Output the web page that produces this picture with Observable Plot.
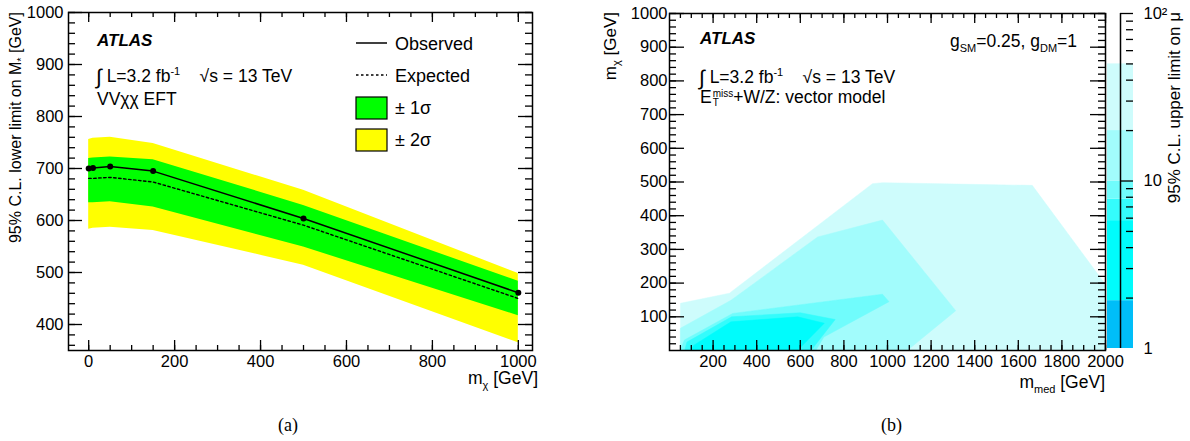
<!DOCTYPE html>
<html><head><meta charset="utf-8">
<script src="https://cdn.jsdelivr.net/npm/d3@7"></script>
<script src="https://cdn.jsdelivr.net/npm/@observablehq/plot@0.6"></script>
<style>
body{margin:0;background:#fff;}
#wrap{position:relative;width:1190px;height:441px;overflow:hidden;background:#fff;font-family:"Liberation Sans",Arial,sans-serif;color:#000;}
.abs{position:absolute;white-space:nowrap;line-height:1;font-size:17.5px;}
.panel{position:absolute;top:0;}
.rot{position:absolute;white-space:nowrap;line-height:16px;font-size:16px;transform-origin:0 0;transform:rotate(-90deg);text-align:right;}
sup,sub{font-size:11px;line-height:0;}
.atlas{font-weight:bold;font-style:italic;font-size:17px;}
.cap{position:absolute;font-family:"Liberation Serif","Times New Roman",serif;font-size:18px;line-height:1;}
.stack{display:inline-block;vertical-align:middle;line-height:9px;font-size:10px;margin-left:1px;}
</style></head><body><div id="wrap"></div>
<script>
// ---------- panel (a) data ----------
const mChi      = [0, 10, 50, 150, 500, 1000];
const observed  = [700, 701, 704, 695, 604, 461];
const expected  = [681, 681, 683, 674, 591, 450];
const sig1Lo    = [634, 634, 636, 626, 549, 417];
const sig1Hi    = [719, 720, 722, 717, 629, 483];
const sig2Lo    = [583, 585, 587, 581, 514, 365];
const sig2Hi    = [756, 758, 760, 748, 658, 498];
const aXMajor = [0, 200, 400, 600, 800, 1000];
const aXMinor = d3.range(0, 1001, 50);
const aYMajor = [400, 500, 600, 700, 800, 900, 1000];
const aYMinor = d3.range(360, 1001, 20);

// ---------- panel (b) data: contour regions (m_med, m_chi) ----------
const region20to50 = [[50,1],[50,140],[275,170],[931,495],[977,498],[1382,493],[1664,490],[1962,229],[2000,195],[2000,1]];
const region10to20 = [[50,1],[50,66],[282,149],[680,337],[977,387],[1313,118],[1092,1]];
const region8to10  = [[50,1],[68,31],[290,110],[977,167],[1007,145],[708,40],[672,1]];
const region6to8   = [[70,1],[80,25],[285,100],[600,112],[760,92],[650,1]];
const region2to6   = [[99,1],[110,15],[282,85],[588,100],[710,81],[588,1]];
const levelLo     = [1, 1.93, 5.8, 7.8, 10, 20];
const levelHi     = [1.93, 5.8, 7.8, 10, 20, 50];
const levelColors = ["#00bef8", "#00fcfc", "#34fcfc", "#70fcfc", "#a2fcfc", "#cefcfc"];
const bXMajor = [200, 400, 600, 800, 1000, 1200, 1400, 1600, 1800, 2000];
const bXMinor = d3.range(50, 2001, 50);
const bYMajor = [100, 200, 300, 400, 500, 600, 700, 800, 900, 1000];
const bYMinor = d3.range(20, 1001, 20);
const cMajor = [10, 100];
const cMinor = [2,3,4,5,6,7,8,9,20,30,40,50,60,70,80,90];

const font = {fontSize: "16.5px", fontFamily: "Liberation Sans, Arial, sans-serif", color: "#000", background: "transparent", overflow: "visible"};

function frameTicks(W, H, xMaj, xMin, yMaj, yMin, L) {
  const s = {stroke: "#000", strokeWidth: 1.3};
  return [
    Plot.tickX(xMaj, {x: d => d, insetTop: H - L.xM, ...s}),
    Plot.tickX(xMaj, {x: d => d, insetBottom: H - L.xM, ...s}),
    Plot.tickX(xMin, {x: d => d, insetTop: H - L.xm, ...s}),
    Plot.tickX(xMin, {x: d => d, insetBottom: H - L.xm, ...s}),
    Plot.tickY(yMaj, {y: d => d, insetRight: W - L.yM, ...s}),
    Plot.tickY(yMaj, {y: d => d, insetLeft: W - L.yM, ...s}),
    Plot.tickY(yMin, {y: d => d, insetRight: W - L.ym, ...s}),
    Plot.tickY(yMin, {y: d => d, insetLeft: W - L.ym, ...s})
  ];
}

const wrap = document.getElementById("wrap");

// ---------- panel (a) ----------
const rowsA = mChi.map((x, i) => ({x, obs: observed[i], exp: expected[i], s1l: sig1Lo[i], s1h: sig1Hi[i], s2l: sig2Lo[i], s2h: sig2Hi[i]}));
const aML = 68, aMR = 30, aMT = 12, aMB = 50, aWidth = 562, aHeight = 400;
const aW = aWidth - aML - aMR, aH = aHeight - aMT - aMB;
const plotA = Plot.plot({
  width: aWidth, height: aHeight, marginLeft: aML, marginRight: aMR, marginTop: aMT, marginBottom: aMB,
  style: font,
  x: {domain: [-47, 1033], ticks: aXMajor, tickSize: 0, tickPadding: 5, label: null, tickFormat: d => String(d)},
  y: {domain: [350, 1000], ticks: aYMajor, tickSize: 0, tickPadding: 5, label: null, tickFormat: d => String(d)},
  marks: [
    Plot.areaY(rowsA, {x: "x", y1: "s2l", y2: "s2h", fill: "#ffff00"}),
    Plot.areaY(rowsA, {x: "x", y1: "s1l", y2: "s1h", fill: "#00ff00"}),
    Plot.line(rowsA, {x: "x", y: "exp", stroke: "#000", strokeWidth: 1.4, strokeDasharray: "2.5,2.5"}),
    Plot.line(rowsA, {x: "x", y: "obs", stroke: "#000", strokeWidth: 1.5}),
    Plot.dot(rowsA, {x: "x", y: "obs", r: 3, fill: "#000", stroke: "none"}),
    ...frameTicks(aW, aH, aXMajor, aXMinor, aYMajor, aYMinor, {xM: 10, xm: 5, yM: 14, ym: 7}),
    Plot.frame({stroke: "#000", strokeWidth: 1.5})
  ]
});
const pa = document.createElement("div"); pa.className = "panel"; pa.style.left = "0px"; pa.appendChild(plotA); wrap.appendChild(pa);

// ---------- panel (b) ----------
const bML = 79, bMR = 85, bMT = 13, bMB = 50, bWidth = 600, bHeight = 400;
const bW = bWidth - bML - bMR, bH = bHeight - bMT - bMB;
const regions = [region20to50, region10to20, region8to10, region6to8, region2to6];
const regionColors = [levelColors[5], levelColors[4], levelColors[3], levelColors[2], levelColors[1]];
const plotB = Plot.plot({
  width: bWidth, height: bHeight, marginLeft: bML, marginRight: bMR, marginTop: bMT, marginBottom: bMB,
  style: font,
  x: {domain: [0, 2000], ticks: bXMajor, tickSize: 0, tickPadding: 5, label: null, tickFormat: d => String(d)},
  y: {domain: [0, 1000], ticks: bYMajor, tickSize: 0, tickPadding: 2, label: null, tickFormat: d => String(d)},
  marks: [
    ...regions.map((r, i) => Plot.line(r, {x: d => d[0], y: d => d[1], curve: "linear-closed", fill: regionColors[i], stroke: regionColors[i], strokeWidth: 0.5})),
    ...frameTicks(bW, bH, bXMajor, bXMinor, bYMajor, bYMinor, {xM: 10, xm: 5, yM: 15, ym: 7}),
    Plot.frame({stroke: "#000", strokeWidth: 1.5})
  ]
});
const pb = document.createElement("div"); pb.className = "panel"; pb.style.left = "590px"; pb.appendChild(plotB); wrap.appendChild(pb);

// ---------- colour bar ----------
const bands = levelLo.map((lo, i) => ({lo, hi: levelHi[i], c: levelColors[i]}));
const cML = 7, cMR = 57, cMT = 13, cMB = 52, cWidth = 90, cHeight = 400;
const cW = cWidth - cML - cMR;
const plotC = Plot.plot({
  width: cWidth, height: cHeight, marginLeft: cML, marginRight: cMR, marginTop: cMT, marginBottom: cMB,
  style: font,
  x: {axis: null},
  y: {type: "log", domain: [1, 100], axis: "right", ticks: [1, 10, 100], tickSize: 0, tickPadding: 10, label: null,
      tickFormat: d => d === 100 ? "10²" : String(d)},
  marks: [
    Plot.barY(bands, {y1: "lo", y2: "hi", fill: "c"}),
    Plot.tickY(cMajor, {y: d => d, insetLeft: cW - 13, stroke: "#000", strokeWidth: 1.3}),
    Plot.tickY(cMinor, {y: d => d, insetLeft: cW - 7, stroke: "#000", strokeWidth: 1.3}),
    Plot.ruleX([0], {frameAnchor: "right", x: null, stroke: "#000", strokeWidth: 1.5})
  ]
});
const pc = document.createElement("div"); pc.className = "panel"; pc.style.left = "1100px"; pc.appendChild(plotC); wrap.appendChild(pc);

// ---------- text annotations ----------
wrap.insertAdjacentHTML("beforeend", `
<div class="abs atlas" style="left:97px;top:32px;">ATLAS</div>
<div class="abs" style="left:96px;top:64px;"><span style="font-size:21px;position:relative;top:2px;">∫</span> L=3.2 fb<sup>-1</sup>&nbsp;&nbsp;&nbsp;&nbsp;√s = 13 TeV</div>
<div class="abs" style="left:97px;top:91px;">VVχχ EFT</div>

<svg style="position:absolute;left:355px;top:30px;" width="34" height="125">
  <line x1="1" x2="32" y1="13" y2="13" stroke="#000" stroke-width="1.5"/>
  <line x1="1" x2="32" y1="45" y2="45" stroke="#000" stroke-width="1.4" stroke-dasharray="2.5,2.5"/>
  <rect x="1" y="67" width="31" height="22" fill="#00ff00" stroke="#000" stroke-width="1.2"/>
  <rect x="1" y="99" width="31" height="22" fill="#ffff00" stroke="#000" stroke-width="1.2"/>
</svg>
<div class="abs" style="left:395px;top:35px;font-size:18px;">Observed</div>
<div class="abs" style="left:395px;top:67px;font-size:18px;">Expected</div>
<div class="abs" style="left:395px;top:99px;font-size:18px;">± 1σ</div>
<div class="abs" style="left:395px;top:131px;font-size:18px;">± 2σ</div>

<div class="rot" style="left:8px;top:352px;width:340px;">95% C.L. lower limit on M<sub>*</sub> [GeV]</div>
<div class="abs" style="left:338px;top:370px;width:200px;text-align:right;">m<sub>χ</sub> [GeV]</div>

<div class="abs atlas" style="left:700px;top:30px;">ATLAS</div>
<div class="abs" style="left:699px;top:65px;"><span style="font-size:21px;position:relative;top:2px;">∫</span> L=3.2 fb<sup>-1</sup>&nbsp;&nbsp;&nbsp;&nbsp;√s = 13 TeV</div>
<div class="abs" style="left:700px;top:89px;">E<span class="stack">miss<br>T</span>+W/Z: vector model</div>
<div class="abs" style="left:877px;top:33px;width:200px;text-align:right;">g<sub>SM</sub>=0.25, g<sub>DM</sub>=1</div>

<div class="rot" style="left:603px;top:112px;width:100px;font-size:17px;">m<sub>χ</sub> [GeV]</div>
<div class="abs" style="left:905px;top:374px;width:200px;text-align:right;">m<sub>med</sub> [GeV]</div>

<div class="rot" style="left:1167px;top:312px;width:300px;font-size:17px;">95% C.L. upper limit on μ</div>

<div class="cap" style="left:278px;top:416px;">(a)</div>
<div class="cap" style="left:881px;top:416px;">(b)</div>
`);
</script></body></html>
